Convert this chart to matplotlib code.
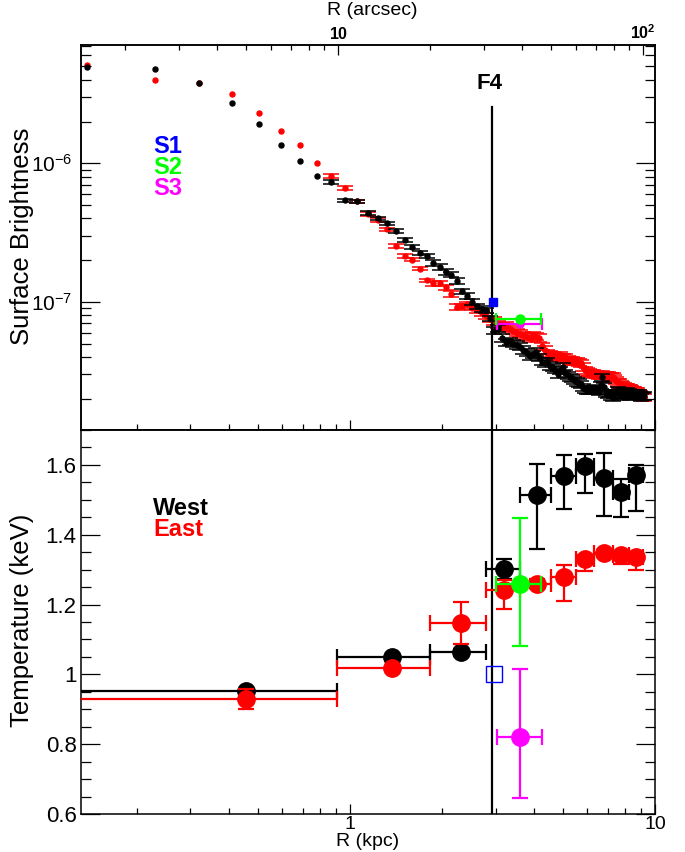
import numpy as np
import matplotlib
matplotlib.use("Agg")
import matplotlib.pyplot as plt
from matplotlib.ticker import (FixedLocator, FixedFormatter, LogLocator,
                               NullFormatter, MultipleLocator)

plt.rcParams['font.family'] = ['Liberation Sans', 'DejaVu Sans']
plt.rcParams['mathtext.fontset'] = 'custom'
plt.rcParams['mathtext.rm'] = 'Liberation Sans'
plt.rcParams['mathtext.it'] = 'Liberation Sans:italic'
plt.rcParams['mathtext.bf'] = 'Liberation Sans:bold'

# ---------------------------------------------------------------- data
KPC_PER_ARCSEC = 0.0915
R_KPC_RANGE = (0.131, 10.0)
F4_KPC = 2.93

# surface-brightness annuli (centres, arcsec)
sb_r_arcsec = [
    1.5, 2.5, 3.5, 4.5, 5.5, 6.5, 7.5, 8.5, 9.5, 10.5,
    11.5, 12.5, 13.5, 14.5, 15.5, 16.5, 17.5, 18.5, 19.5, 20.5,
    21.5, 22.5, 23.5, 24.5, 25.5, 26.5, 27.5, 28.5, 29.5, 30.5,
    31.5, 32.5, 33.5, 34.5, 35.5, 36.5, 37.5, 38.5, 39.5, 40.5,
    41.5, 42.5, 43.5, 44.5, 45.5, 46.5, 47.5, 48.5, 49.5, 50.5,
    51.5, 52.5, 53.5, 54.5, 55.5, 56.5, 57.5, 58.5, 59.5, 60.5,
    61.5, 62.5, 63.5, 64.5, 65.5, 66.5, 67.5, 68.5, 69.5, 70.5,
    71.5, 72.5, 73.5, 74.5, 75.5, 76.5, 77.5, 78.5, 79.5, 80.5,
    81.5, 82.5, 83.5, 84.5, 85.5, 86.5, 87.5, 88.5, 89.5, 90.5,
    91.5, 92.5, 93.5, 94.5, 95.5, 96.5, 97.5, 98.5, 99.5, 100.5,
]

# surface brightness, units of 1e-8
sb_west = [
    498, 477, 378, 273, 191, 136, 103, 81, 73, 54,
    53, 44, 40, 36.8, 32.4, 27.9, 24.9, 22.6, 21.4, 19.1,
    17.9, 16.4, 15.7, 14.2, 11.9, 11.0, 10.0, 9.3, 8.9, 8.7,
    7.6, 6.2, 6.4, 5.5, 5.1, 5.2, 5.0, 4.9, 4.75, 4.5,
    4.3, 4.05, 4.2, 4.35, 4.0, 3.7, 3.6, 3.7, 3.45, 3.35,
    3.25, 3.0, 3.2, 3.4, 3.05, 2.95, 2.85, 2.8, 2.72, 2.65,
    2.6, 2.55, 2.4, 2.35, 2.3, 2.32, 2.3, 2.35, 2.37, 2.3,
    2.25, 2.5, 2.85, 2.45, 2.2, 2.15, 2.2, 2.1, 2.05, 2.15,
    2.2, 2.3, 2.25, 2.15, 2.1, 2.12, 2.2, 2.25, 2.22, 2.15,
    2.1, 2.12, 2.18, 2.2, 2.15, 2.18, 2.1, 2.05, 2.08, 2.1,
]
sb_east = [
    512, 399, 378, 318, 232, 170, 135, 101, 81, 66.6,
    53, 43, 39, 33.3, 25.2, 21.4, 20.2, 17.4, 14.3, 13.6,
    13.6, 12.7, 11.4, 9.2, 9.3, 9.6, 9.1, 8.7, 8.3, 7.9,
    7.5, 7.3, 6.9, 6.6, 6.7, 6.4, 6.2, 6.0, 5.9, 5.75,
    5.6, 5.5, 5.7, 5.6, 5.5, 4.8, 4.5, 4.25, 4.2, 4.1,
    4.05, 4.0, 4.1, 3.95, 4.0, 3.85, 3.8, 3.75, 3.7, 3.7,
    3.65, 3.6, 3.4, 3.2, 3.13, 3.1, 3.05, 3.05, 3.0, 2.98,
    2.96, 2.95, 2.97, 2.96, 2.95, 2.93, 2.9, 2.88, 2.87, 2.8,
    2.7, 2.64, 2.6, 2.55, 2.5, 2.45, 2.43, 2.4, 2.38, 2.37,
    2.33, 2.3, 2.28, 2.25, 2.24, 2.2, 2.15, 2.1, 2.07, 2.05,
]
SB_UNIT = 1e-8
# fractional SB errors by radial band: (r_min, r_max) arcsec -> error
sb_err_band_lo = [9.0, 20.0, 32.0]
sb_err_band_hi = [20.0, 32.0, 101.0]
sb_err_band_frac = [0.03, 0.045, 0.06]

# special regions S1, S2, S3 (surface brightness)
s1_sb_r, s1_sb = 2.95, 1.0e-7
s2_sb_r, s2_sb, s2_sb_rlo, s2_sb_rhi = 3.60, 7.46e-8, 3.02, 4.22
s3_sb_r, s3_sb, s3_sb_rlo, s3_sb_rhi = 3.62, 6.9e-8, 3.03, 4.26

# temperature bins (kpc)
t_bin_lo = [0.0, 0.91, 1.83, 2.80, 3.62, 4.56, 5.50, 6.30, 7.30, 8.20]
t_bin_hi = [0.91, 1.83, 2.80, 3.62, 4.56, 5.50, 6.30, 7.30, 8.20, 9.10]
t_west = [0.953, 1.050, 1.064, 1.303, 1.514, 1.569, 1.597, 1.562, 1.521, 1.571]
t_west_up = [0.006, 0.006, 0.010, 0.028, 0.088, 0.059, 0.035, 0.073, 0.038, 0.028]
t_west_dn = [0.006, 0.006, 0.010, 0.030, 0.154, 0.095, 0.078, 0.108, 0.071, 0.102]
t_east = [0.930, 1.017, 1.146, 1.241, 1.260, 1.279, 1.331, 1.347, 1.341, 1.336]
t_east_up = [0.027, 0.006, 0.060, 0.029, 0.012, 0.035, 0.010, 0.010, 0.010, 0.010]
t_east_dn = [0.028, 0.006, 0.060, 0.054, 0.012, 0.069, 0.035, 0.010, 0.024, 0.038]

s1_t_r, s1_t = 2.97, 1.00
s2_t_r, s2_t, s2_t_rlo, s2_t_rhi, s2_t_up, s2_t_dn = 3.60, 1.260, 3.01, 4.22, 0.188, 0.179
s3_t_r, s3_t, s3_t_rlo, s3_t_rhi, s3_t_up, s3_t_dn = 3.62, 0.822, 3.03, 4.27, 0.193, 0.176

# ---------------------------------------------------------------- figure
W, H = 685, 852
fig = plt.figure(figsize=(W / 100, H / 100), dpi=100)


def fx(px):
    return px / W


def fy(py):
    return 1 - py / H


left, right = 80.7, 655.0
top1, mid, bot2 = 45.0, 430.0, 814.0
ax1 = fig.add_axes([fx(left), fy(mid), fx(right) - fx(left), fy(top1) - fy(mid)])
ax2 = fig.add_axes([fx(left), fy(bot2), fx(right) - fx(left), fy(mid) - fy(bot2)])

RED, GREEN, BLUE, MAG = '#ff0000', '#00ff00', '#0000ff', '#ff00ff'

# ---------------------------------------------------------------- top panel
r_kpc = np.array(sb_r_arcsec) * KPC_PER_ARCSEC
r_as = np.array(sb_r_arcsec)


def sb_errors(vals):
    v = np.array(vals) * SB_UNIT
    err = np.zeros_like(v)
    for lo, hi, f in zip(sb_err_band_lo, sb_err_band_hi, sb_err_band_frac):
        m = (r_as >= lo) & (r_as < hi)
        err[m] = f * v[m]
    return v, err


for vals, col, z in [(sb_east, RED, 3), (sb_west, 'black', 4)]:
    v, e = sb_errors(vals)
    m = e > 0
    ax1.errorbar(r_kpc[m], v[m], yerr=e[m], fmt='none', ecolor=col,
                 elinewidth=1.0, capsize=5.5, capthick=1.1, zorder=z)
    ax1.plot(r_kpc, v, 'o', color=col, ms=3.6, mec=col, zorder=z + 0.5)

ax1.axvline(F4_KPC, ymin=0, ymax=(mid - 107) / (mid - top1), color='black',
            lw=1.6, zorder=6)

ax1.errorbar([s3_sb_r], [s3_sb],
             xerr=[[s3_sb_r - s3_sb_rlo], [s3_sb_rhi - s3_sb_r]],
             fmt='o', color=MAG, ms=5, elinewidth=1.6, capsize=4, capthick=1.6,
             zorder=7)
ax1.errorbar([s2_sb_r], [s2_sb],
             xerr=[[s2_sb_r - s2_sb_rlo], [s2_sb_rhi - s2_sb_r]],
             fmt='o', color=GREEN, ms=6.5, elinewidth=1.6, capsize=4, capthick=1.6,
             zorder=8)
ax1.plot([s1_sb_r], [s1_sb], 's', color=BLUE, ms=6.3, zorder=9)

ax1.set_xscale('log')
ax1.set_yscale('log')
ax1.set_xlim(*R_KPC_RANGE)
ax1.set_ylim(1.19e-8, 7.13e-6)

ax1.xaxis.set_major_locator(FixedLocator([1, 10]))
ax1.xaxis.set_minor_locator(LogLocator(base=10, subs=np.arange(2, 10)))
ax1.xaxis.set_major_formatter(NullFormatter())
ax1.xaxis.set_minor_formatter(NullFormatter())
ax1.tick_params(axis='x', which='both', direction='in', bottom=True, top=False,
                labelbottom=False)
ax1.tick_params(axis='x', which='major', length=7.2, width=0.9)
ax1.tick_params(axis='x', which='minor', length=4.0, width=0.9)

ax1.yaxis.set_major_locator(FixedLocator([1e-7, 1e-6]))
ax1.yaxis.set_major_formatter(FixedFormatter([r'$10^{-7}$', r'$10^{-6}$']))
ax1.yaxis.set_minor_locator(LogLocator(base=10, subs=np.arange(2, 10)))
ax1.yaxis.set_minor_formatter(NullFormatter())
ax1.tick_params(axis='y', which='both', direction='in', left=True, right=True,
                labelsize=15, pad=6)
ax1.tick_params(axis='y', which='major', length=14, width=0.9)
ax1.tick_params(axis='y', which='minor', length=7, width=0.9)

# arcsec scale along the top
axt = ax1.twiny()
axt.set_xscale('log')
axt.set_xlim(R_KPC_RANGE[0] / KPC_PER_ARCSEC, R_KPC_RANGE[1] / KPC_PER_ARCSEC)
axt.xaxis.set_major_locator(FixedLocator([10, 100]))
axt.xaxis.set_major_formatter(FixedFormatter([r'$\mathbf{10}$', r'$\mathbf{10^{2}}$']))
axt.xaxis.set_minor_locator(LogLocator(base=10, subs=np.arange(2, 10)))
axt.xaxis.set_minor_formatter(NullFormatter())
axt.tick_params(axis='x', which='both', direction='in', top=True, bottom=False,
                labeltop=True, labelbottom=False, labelsize=11.5, pad=2)
axt.tick_params(axis='x', which='major', length=7.2, width=0.9)
axt.tick_params(axis='x', which='minor', length=3.6, width=0.9)

# ---------------------------------------------------------------- bottom panel
t_lo = np.maximum(np.array(t_bin_lo), 1e-3)
t_hi = np.array(t_bin_hi)
t_r = 0.5 * (np.array(t_bin_lo) + t_hi)
xerr_t = [t_r - t_lo, t_hi - t_r]

ax2.axvline(F4_KPC, color='black', lw=1.6, zorder=2)

ax2.errorbar(t_r, t_east, xerr=xerr_t, yerr=[t_east_dn, t_east_up], fmt='o',
             color=RED, ms=12.5, elinewidth=1.6, capsize=5.5, capthick=1.6,
             zorder=4)
ax2.errorbar(t_r, t_west, xerr=xerr_t, yerr=[t_west_dn, t_west_up], fmt='o',
             color='black', ms=12.5, elinewidth=1.6, capsize=5.5, capthick=1.6,
             zorder=3)
ax2.errorbar([s2_t_r], [s2_t],
             xerr=[[s2_t_r - s2_t_rlo], [s2_t_rhi - s2_t_r]],
             yerr=[[s2_t_dn], [s2_t_up]], fmt='o', color=GREEN, ms=12.5,
             elinewidth=1.6, capsize=5.5, capthick=1.6, zorder=5)
ax2.errorbar([s3_t_r], [s3_t],
             xerr=[[s3_t_r - s3_t_rlo], [s3_t_rhi - s3_t_r]],
             yerr=[[s3_t_dn], [s3_t_up]], fmt='o', color=MAG, ms=12.5,
             elinewidth=1.6, capsize=5.5, capthick=1.6, zorder=5)
ax2.plot([s1_t_r], [s1_t], 's', ms=12, mfc='none', mec=BLUE, mew=1.0, zorder=6)

ax2.set_xscale('log')
ax2.set_xlim(*R_KPC_RANGE)
ax2.set_ylim(0.6, 1.7)

ax2.xaxis.set_major_locator(FixedLocator([1, 10]))
ax2.xaxis.set_major_formatter(FixedFormatter(['1', '10']))
ax2.xaxis.set_minor_locator(LogLocator(base=10, subs=np.arange(2, 10)))
ax2.xaxis.set_minor_formatter(NullFormatter())
ax2.tick_params(axis='x', which='both', direction='in', bottom=True, top=False,
                labelsize=14, pad=1.5)
ax2.tick_params(axis='x', which='major', length=7.2, width=0.9)
ax2.tick_params(axis='x', which='minor', length=4.0, width=0.9)

ax2.yaxis.set_major_locator(FixedLocator([0.6, 0.8, 1.0, 1.2, 1.4, 1.6]))
ax2.yaxis.set_major_formatter(FixedFormatter(['0.6', '0.8', '1', '1.2', '1.4', '1.6']))
ax2.yaxis.set_minor_locator(MultipleLocator(0.05))
ax2.tick_params(axis='y', which='both', direction='in', left=True, right=True,
                labelsize=16, pad=3)
ax2.tick_params(axis='y', which='major', length=14, width=0.9)
ax2.tick_params(axis='y', which='minor', length=7, width=0.9)

for a in (ax1, ax2, axt):
    for s in a.spines.values():
        s.set_linewidth(1.1)

# ---------------------------------------------------------------- labels
fig.text(fx(372), fy(15), 'R (arcsec)', ha='center', va='baseline', fontsize=14)
fig.text(fx(368), fy(846), 'R (kpc)', ha='center', va='baseline', fontsize=14)
fig.text(fx(22), fy(236), 'Surface Brightness', rotation=90, ha='center',
         va='center', fontsize=18.5)
fig.text(fx(22), fy(620), 'Temperature (keV)', rotation=90, ha='center',
         va='center', fontsize=18.5)

fig.text(fx(490), fy(89), 'F4', ha='center', va='baseline', fontsize=16,
         fontweight='bold')

for txt, col, base in [('S1', BLUE, 152.7), ('S2', GREEN, 173.5), ('S3', MAG, 195)]:
    fig.text(fx(153), fy(base), txt, color=col, ha='left', va='baseline',
             fontsize=17, fontweight='bold')
for txt, col, base in [('West', 'black', 515), ('East', RED, 536.5)]:
    fig.text(fx(153), fy(base), txt, color=col, ha='left', va='baseline',
             fontsize=17, fontweight='bold')

fig.savefig('out.png', dpi=100)
